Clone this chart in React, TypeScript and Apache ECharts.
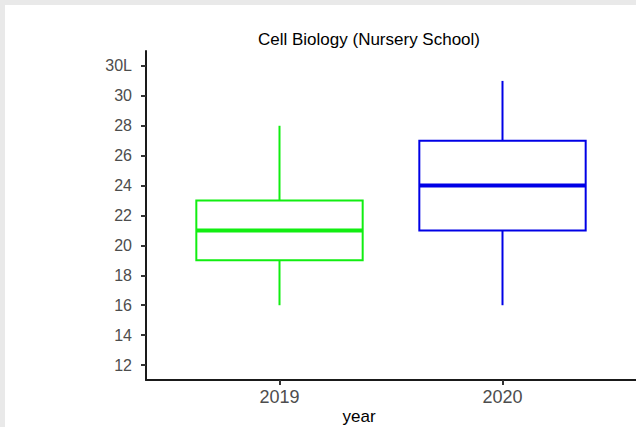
import React, { useEffect, useRef } from "react";
import * as echarts from "echarts";

const years = ["2019", "2020"];
const mins = [16, 16];
const q1s = [19, 21];
const medians = [21, 24];
const q3s = [23, 27];
const maxs = [28, 31];
const boxColors = ["#11ee11", "#0000e6"];
const yTickValues = [12, 14, 16, 18, 20, 22, 24, 26, 28, 30, 32];
const yTickLabels = ["12", "14", "16", "18", "20", "22", "24", "26", "28", "30", "30L"];
const titleText = "Cell Biology (Nursery School)";
const xAxisTitle = "year";

const FONT = "'Liberation Sans', Arial, Helvetica, sans-serif";

export default function App() {
  const ref = useRef<HTMLDivElement>(null);
  useEffect(() => {
    if (!ref.current) return;
    const chart = echarts.init(ref.current, undefined, { renderer: "svg" });
    const data = years.map((_, i) => [i, mins[i], q1s[i], medians[i], q3s[i], maxs[i]]);
    const option: any = {
      animation: false,
      backgroundColor: "#ffffff",
      grid: [
        { left: 168, right: 22, top: 51, bottom: 47 },
        { left: 146, right: 0, top: 51, bottom: 47 },
      ],
      xAxis: [
        {
          type: "category",
          gridIndex: 0,
          data: years,
          axisLine: { show: false },
          axisTick: { show: true, alignWithLabel: true, length: 5, lineStyle: { color: "#333", width: 2 } },
          axisLabel: { color: "#4d4d4d", fontSize: 18, fontFamily: FONT, margin: 8 },
          splitLine: { show: false },
        },
        {
          type: "value",
          gridIndex: 1,
          min: 0,
          max: 1,
          axisLine: { show: true, lineStyle: { color: "#1a1a1a", width: 2 } },
          axisTick: { show: false },
          axisLabel: { show: false },
          splitLine: { show: false },
        },
      ],
      yAxis: [
        {
          type: "value",
          gridIndex: 0,
          min: 11,
          max: 33,
          interval: 1,
          offset: 22,
          axisLine: { show: true, lineStyle: { color: "#1a1a1a", width: 2 } },
          axisTick: { show: true, length: 5, customValues: yTickValues, lineStyle: { color: "#333", width: 2 } },
          axisLabel: {
            color: "#4d4d4d",
            fontSize: 16,
            fontFamily: FONT,
            margin: 14,
            customValues: yTickValues,
            formatter: (v: number) => {
              const idx = yTickValues.indexOf(v);
              return idx >= 0 ? yTickLabels[idx] : "";
            },
          },
          splitLine: { show: false },
        },
        {
          type: "value",
          gridIndex: 1,
          show: false,
          min: 0,
          max: 1,
        },
      ],
      series: [
        {
          type: "custom",
          xAxisIndex: 0,
          yAxisIndex: 0,
          data,
          encode: { x: 0, y: [1, 2, 3, 4, 5] },
          renderItem: (params: any, api: any) => {
            const x = api.value(0);
            const lo = api.coord([x, api.value(1)]);
            const q1 = api.coord([x, api.value(2)]);
            const med = api.coord([x, api.value(3)]);
            const q3 = api.coord([x, api.value(4)]);
            const hi = api.coord([x, api.value(5)]);
            const band = api.size([1, 0])[0];
            const half = band * 0.373;
            const color = boxColors[params.dataIndex];
            return {
              type: "group",
              children: [
                {
                  type: "line",
                  shape: { x1: hi[0], y1: hi[1], x2: hi[0], y2: q3[1] },
                  style: { stroke: color, lineWidth: 2 },
                },
                {
                  type: "line",
                  shape: { x1: lo[0], y1: lo[1], x2: lo[0], y2: q1[1] },
                  style: { stroke: color, lineWidth: 2 },
                },
                {
                  type: "rect",
                  shape: { x: q3[0] - half, y: q3[1], width: 2 * half, height: q1[1] - q3[1] },
                  style: { fill: "#ffffff", stroke: color, lineWidth: 2 },
                },
                {
                  type: "line",
                  shape: { x1: med[0] - half, y1: med[1], x2: med[0] + half, y2: med[1] },
                  style: { stroke: color, lineWidth: 4 },
                },
              ],
            };
          },
        },
      ],
      graphic: [
        { type: "rect", shape: { x: 0, y: 0, width: 636, height: 5 }, style: { fill: "#e9e9e9" }, silent: true },
        { type: "rect", shape: { x: 0, y: 0, width: 5, height: 427 }, style: { fill: "#e9e9e9" }, silent: true },
        {
          type: "text",
          x: 369,
          y: 39,
          style: { text: titleText, fill: "#000000", fontSize: 17, fontFamily: FONT, textAlign: "center", textVerticalAlign: "middle" },
        },
        {
          type: "text",
          x: 359,
          y: 416,
          style: { text: xAxisTitle, fill: "#000000", fontSize: 17, fontFamily: FONT, textAlign: "center", textVerticalAlign: "middle" },
        },
      ],
    };
    chart.setOption(option);
    return () => chart.dispose();
  }, []);
  return <div ref={ref} style={{ position: "fixed", left: 0, top: 0, width: 636, height: 427 }} />;
}
